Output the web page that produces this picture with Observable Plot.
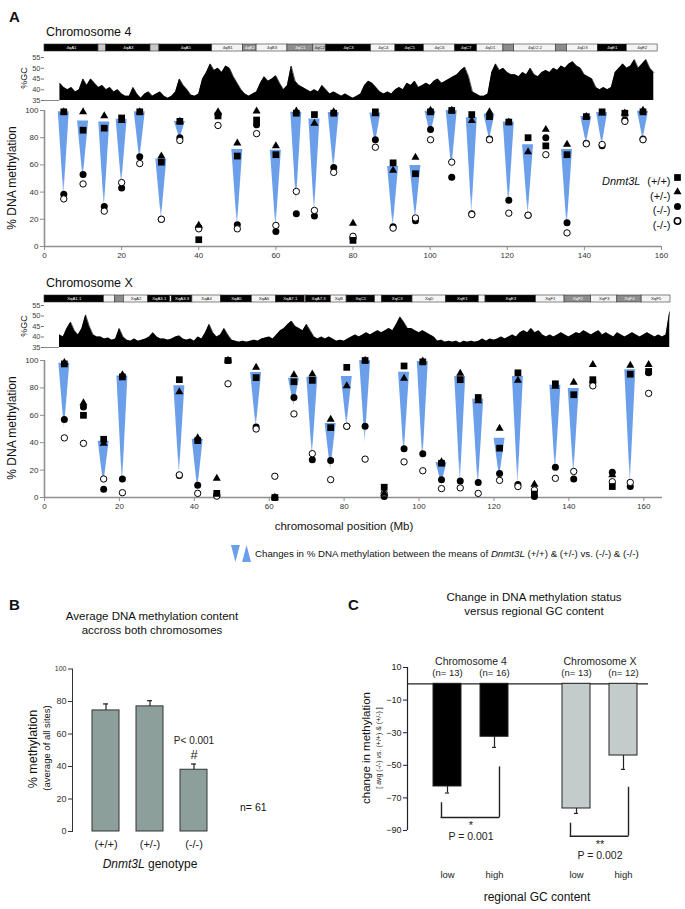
<!DOCTYPE html>
<html><head><meta charset="utf-8"><title>Dnmt3L methylation</title>
<script src="https://cdn.jsdelivr.net/npm/d3@7"></script>
<script src="https://cdn.jsdelivr.net/npm/@observablehq/plot@0.6"></script>
<style>
html,body{margin:0;padding:0;background:#fff;}
#page{position:relative;width:685px;height:909px;overflow:hidden;font-family:"Liberation Sans",Arial,Helvetica,sans-serif;color:#111;}
.t{position:absolute;white-space:nowrap;line-height:1;}
</style></head><body><div id="page"></div>
<script>
// ================= DATA =================
// Panel A — chromosome 4 sites (Mb) and % methylation per genotype
const chr4Pos  = [5, 10, 15.5, 20, 24.7, 30.3, 35.1, 40, 45, 50, 55, 60, 65.3, 70, 75, 80, 85.8, 90.4, 96.2, 100.1, 105.6, 110.8, 115.4, 120.4, 125.4, 130, 135.5, 140.5, 144.6, 150.5, 155.2];
const chr4WT   = [99, 85.5, 87, 94.5, 99, 62, 92, 5, 96, 66.5, 93, 67.5, 98, 97, 98, 4.5, 99, 61.5, 53.5, 99, 100, 97, 95.5, 91.5, 80, 74, 67.5, 95.5, 99, 98, 99];
const chr4Het  = [99, 99, 96, 92.5, 99, 66.5, 92, 15.5, 99, 76, 99.5, 74, 99.5, 90.5, 99, 17, 97.5, 56, 65.5, 100, 100, 92.5, 99, 91.5, 69.5, 86, 75, 95.5, 98, 98, 100];
const chr4KO1  = [38.5, 53, 29.5, 43, 66, 20, 80, 14, 97, 16, 89.5, 11, 24, 22.5, 58, 6, 78.5, 14.5, 19, 86, 51, 24, 79, 34, 23, 80, 17.5, 76, 74, 93, 79];
const chr4KO2  = [35, 46, 26, 47, 61, 20, 78, 13, 89, 13, 83, 15.5, 40.5, 26.5, 54.5, 7.5, 73, 13.5, 21, 78.5, 62, 23.5, 78.5, 24.5, 23, 67.5, 10, 75.5, 75, 92, 78.5];
const chr4Wedge = [1,1,1,1,1,1,1,0,0,1,0,1,1,1,1,0,1,1,1,1,1,1,1,1,1,0,1,1,1,0,1];

// Panel A — chromosome X sites
const chrXPos  = [5.3, 10.4, 15.8, 20.8, 36, 40.9, 46, 49, 56.5, 61.5, 66.6, 71.5, 76.4, 80.7, 85.6, 90.7, 96, 101, 106, 111, 115.8, 121.5, 126.4, 130.8, 136.4, 141.3, 146.4, 151.6, 156.4, 161.3];
const chrXWT   = [97.5, 60, 42.5, 88, 86, 41.5, 3, 100, 87.5, 0, 84.5, 85.5, 51, 95, 100, 7.5, 96, 99, 25, 86, 73, 36, 91, 2.5, 83, 75, 86, 8, 90, 92];
const chrXHet  = [98.5, 69, 39.5, 89.5, 77, 43.5, 14, 100, 95, 0, 89.5, 90, 57, 81.5, 100, 3, 87, 99.5, 26, 90.5, 70.5, 50.5, 85.5, 9.5, 81, 84, 97, 16.5, 96.5, 97];
const chrXKO1  = [57, 66, 6, 13.5, 16, 9, 2, 100, 51.5, 0, 73, 27.5, 27, 52, 52, 0.7, 35.5, 32, 13, 12, 11, 17.5, 9.5, 0.7, 22, 13.5, 84, 18.5, 8, 91];
const chrXKO2  = [43.5, 39.5, 13.5, 3.5, 16.5, 3, 1, 83, 50, 15.5, 61, 32, 13, 52, 28, 3, 26, 19.5, 6.5, 7, 3, 12.5, 8, 5.5, 14, 19, 81.5, 11.5, 11, 76];
const chrXWedge = [1,0,1,1,1,1,0,0,1,0,1,1,1,1,1,0,1,1,1,1,1,1,1,0,1,1,0,0,1,0];

const genotypeLabels = ["(+/+)", "(+/-)", "(-/-)", "(-/-)"];

// %GC profiles, 1-Mb bins starting at gcStart
const gc4Start = 4;
const gc4 = [43,41,40,41,39,40,45,42,45,43, 41,42,40,41,39,40,38,37,37,41, 38,36,38,39,37,38,39,37,36,37, 39,45,42,40,37.5,37,38,45,48,52, 49,50,48,51,50,46,43,40,38,37, 38,39,43,46,44,45,46.5,43,40,42, 51,44,42,41,40,39,40,39,42,40, 38,39,38,37,38,37,36,37,38,42, 44,43,41,39,38,39,38,40,41,40, 43,42,44,41,42,43,42,44,45,43, 44,45,46,47,49,50.5,46,39,38,37, 37,38,48,52,49,50,48,47,47,46, 48,47,50,47,46,48,49,48,50,49, 51,50,52,53,51,50,47,46,45,41, 40,41,40,41,48,50,52,50,51,54, 50,52,54,50,48];
const gcXStart = 4;
const gcX = [41,40,44,47,43,41,44,50.5,45,41, 40,40,39,39.5,38.5,39,44,40,38.5,38, 39,38,38.5,39,40,42,40,39,39,38.5, 39,40,40.5,39,38.5,39,38,40,39,42, 46,42,40,41,44,41,38.5,38,37.5,38, 37.5,38,38.5,38,39,39.5,40,39,41,43, 44,46,47.5,45,44,43,46,43,40,39, 40,39,40,39,38,38.5,38,39,40,41, 40,41,42,41,42,43,42,43,44,43, 46,49.5,47,44,44,43,42,43,42,41, 40,38,38.5,37.5,38,37.5,38,37,38,37.5, 38,37.5,38,39,38,39,38.5,39,40,39, 40,41,40,42,43,42,44,42,43,41, 40,41,40,41,42,41,40,41,42,41.5, 43,42,41,42,43,41,42,41,40,42, 41,40,41,42,41,40,41,42,41,40, 41,40,41,52];

// Cytogenetic bands (edges in Mb)
const band4Edges = [0, 14, 16, 27.5, 29.8, 43.5, 51.5, 55, 63, 69.7, 73, 84.7, 91, 98.4, 106.5, 112.2, 119, 121.8, 132.6, 135.5, 143.5, 151, 159];
const band4Label = ["4qA1","4qA2","4qA3","4qA4","4qA5","4qB1","4qB2","4qB3","4qC1","4qC2","4qC3","4qC4","4qC5","4qC6","4qC7","4qD1","4qD2.1","4qD2.2","4qD2.3","4qD3","4qE1","4qE2"];
const band4Stain = ["black","light","black","light","black","white","dark","white","dark","light","black","white","black","white","black","white","dark","white","dark","white","black","white"];
const bandXEdges = [0, 15.9, 18.9, 21.2, 27.7, 33.6, 34.0, 39.5, 47.1, 55.4, 61.8, 69.5, 69.9, 76.5, 80.7, 88.3, 90.1, 98.3, 107.2, 116, 117.8, 131.3, 138.9, 146, 153, 159.5, 167.2];
const bandXLabel = ["XqA1.1","XqA1.2","XqA1.3","XqA2","XqA3.1","XqA3.2","XqA3.3","XqA4","XqA5","XqA6","XqA7.1","XqA7.2","XqA7.3","XqB","XqC1","XqC2","XqC3","XqD","XqE1","XqE2","XqE3","XqF1","XqF2","XqF3","XqF4","XqF5"];
const bandXStain = ["black","white","dark","white","black","white","black","white","black","white","black","white","black","white","black","white","black","white","black","white","black","white","dark","white","dark","white"];

// tick labels
const gcTicks = [35, 40, 45, 50, 55];
const methTicks = [0, 20, 40, 60, 80, 100];
const posTicks = [0, 20, 40, 60, 80, 100, 120, 140, 160];

// Panel B
const bGenotype = ["(+/+)", "(+/-)", "(-/-)"];
const bMean = [74.5, 77, 38];
const bErr = [4, 3.5, 3.5];
const bTicks = [0, 20, 40, 60, 80];
const bTopTick = [100];
const bSigP = "P< 0.001";
const bSigMark = "#";

// Panel C
const cChrom = ["Chromosome 4", "Chromosome 4", "Chromosome X", "Chromosome X"];
const cGC = ["low", "high", "low", "high"];
const cMean = [-63, -32.5, -76.5, -44];
const cErr = [4, 6.5, 3, 8.5];
const cN = [13, 16, 13, 12];
const cTicks = [-90, -70, -50, -30, -10, 10];
const cGroups = ["Chromosome 4", "Chromosome X"];
const brLowTop = [-73, -85.5];
const brHighTop = [-51, -63.5];
const brBottom = [-82, -93.5];
const brStars = ["*", "**"];
const brP = ["P = 0.001", "P = 0.002"];

// ================= DRAWING =================
const FONT = '"Liberation Sans", Arial, Helvetica, sans-serif';
const NARROW = '"Liberation Sans Narrow", "Arial Narrow", "Liberation Sans", sans-serif';
const page = document.getElementById("page");
const baseStyle = {background: "transparent", overflow: "visible", maxWidth: "none", fontFamily: FONT, color: "#222"};

function place(svg, left, top) {
  svg.style.position = "absolute";
  svg.style.left = left + "px";
  svg.style.top = top + "px";
  page.appendChild(svg);
  return svg;
}
function text(html, x, y, o = {}) {
  const d = document.createElement("div");
  d.className = "t";
  d.innerHTML = html;
  d.style.fontSize = (o.size || 12) + "px";
  if (o.bold) d.style.fontWeight = "bold";
  if (o.family) d.style.fontFamily = o.family;
  if (o.color) d.style.color = o.color;
  d.style.left = x + "px";
  d.style.top = y + "px";
  const tx = o.anchor === "start" ? "0" : o.anchor === "end" ? "-100%" : "-50%";
  d.style.transform = `translate(${tx},-50%)` + (o.rotate ? ` rotate(${o.rotate}deg)` : "");
  page.appendChild(d);
}

const stainFill = {black: "#000", white: "#f4f4f4", light: "#c8c8c8", dark: "#8c8c8c"};
const stainText = {black: "#fff", white: "#222", light: "#222", dark: "#fff"};

function ideogram(edges, labels, stains, domain, marginRight) {
  const pxPerMb = (685 - 44 - marginRight) / domain[1];
  const rows = labels.map((l, i) => ({s: edges[i], e: edges[i + 1], label: l, stain: stains[i]}));
  // only label bands wide enough to hold their name
  const labelled = rows.filter(r => (r.e - r.s) * pxPerMb >= r.label.length * 2.4);
  return Plot.plot({
    width: 685, height: 9, marginLeft: 44, marginRight, marginTop: 1, marginBottom: 1,
    x: {domain, axis: null}, color: {type: "identity"}, style: baseStyle,
    marks: [
      Plot.rect(rows, {x1: "s", x2: "e", fill: d => stainFill[d.stain], stroke: "#333", strokeWidth: 0.6}),
      Plot.text(labelled, {x: d => (d.s + d.e) / 2, text: "label", fontSize: 4.3, fill: d => stainText[d.stain]})
    ]
  });
}

function gcPlot(start, vals, domain, marginRight, height) {
  const rows = vals.map((v, i) => ({pos: start + i, gc: v}));
  return Plot.plot({
    width: 685, height, marginLeft: 44, marginRight, marginTop: 5, marginBottom: 4,
    x: {domain, axis: null}, y: {domain: [35, 55]}, style: baseStyle,
    marks: [
      Plot.areaY(rows, {x: "pos", y: "gc", fill: "#000", curve: "linear", clip: true}),
      Plot.lineY(rows, {x: "pos", y: "gc", stroke: "#000", strokeWidth: 0.6, clip: true}),
      Plot.ruleY([35], {x1: 0, x2: start, stroke: "#888", strokeWidth: 1}),
      Plot.axisY({ticks: gcTicks, tickSize: 3, tickPadding: 1, fontSize: 7.5, label: null, stroke: "#777", fill: "#444"})
    ]
  });
}

function methylationPlot(d, domain, marginRight, height, legend) {
  const pxPerMb = (685 - 44 - marginRight) / domain[1];
  const hw = 5.5 / pxPerMb;
  const wedges = [];
  d.pos.forEach((p, i) => {
    if (!d.wedge[i]) return;
    const hi = (d.wt[i] + d.het[i]) / 2, lo = (d.ko1[i] + d.ko2[i]) / 2;
    wedges.push({site: i, y: hi, x1: p - hw, x2: p + hw}, {site: i, y: lo, x1: p, x2: p});
  });
  const pts = vals => d.pos.map((p, i) => ({pos: p, v: vals[i]}));
  const marks = [
    Plot.areaX(wedges, {y: "y", x1: "x1", x2: "x2", z: "site", fill: "url(#wedgeGrad)"}),
    Plot.ruleY([0], {stroke: "#8f8f8f", strokeWidth: 1.6}),
    Plot.ruleX([0], {stroke: "#8f8f8f", strokeWidth: 1.6}),
    Plot.axisY({ticks: methTicks, tickSize: 4, tickPadding: 2, fontSize: 8, label: null, stroke: "#8f8f8f", fill: "#333"}),
    Plot.axisX({ticks: posTicks, tickSize: 4, tickPadding: 2, fontSize: 8, label: null, stroke: "#8f8f8f", fill: "#333"}),
    Plot.dot(pts(d.ko1), {x: "pos", y: "v", r: 3.5, fill: "#000"}),
    Plot.dot(pts(d.ko2), {x: "pos", y: "v", r: 3.2, fill: "#fff", stroke: "#000", strokeWidth: 1}),
    Plot.dot(pts(d.het), {x: "pos", y: "v", r: 3.0, symbol: "triangle", fill: "#000"}),
    Plot.dot(pts(d.wt), {x: "pos", y: "v", r: 3.8, symbol: "square", fill: "#000"})
  ];
  if (legend) {
    const sym = [
      {symbol: "square", r: 3.8, fill: "#000", stroke: "none"},
      {symbol: "triangle", r: 3.0, fill: "#000", stroke: "none"},
      {symbol: "circle", r: 3.5, fill: "#000", stroke: "none"},
      {symbol: "circle", r: 3.2, fill: "#fff", stroke: "#000"}
    ];
    const ly = [67, 81.5, 96, 110.5];
    genotypeLabels.forEach((lab, i) => {
      marks.push(Plot.dot([lab], {frameAnchor: "top-right", dx: 16, dy: ly[i], ...sym[i]}));
      marks.push(Plot.text([lab], {text: t => t, frameAnchor: "top-right", dx: 9, dy: ly[i], textAnchor: "end", fontSize: 11, fill: "#111"}));
    });
    marks.push(Plot.text(["Dnmt3L"], {text: t => t, frameAnchor: "top-right", dx: -21, dy: ly[0], textAnchor: "end", fontSize: 11, fontStyle: "italic", fill: "#111"}));
  }
  return Plot.plot({
    width: 685, height, marginLeft: 44, marginRight, marginTop: 6, marginBottom: 18,
    x: {domain}, y: {domain: [0, 100]}, style: baseStyle, marks
  });
}

// ---------- Panel A ----------
text("A", 9, 16, {anchor: "start", bold: true, size: 15});
text("Chromosome 4", 46, 32, {anchor: "start", size: 12.5});
place(ideogram(band4Edges, band4Label, band4Stain, [0, 160], 24), 0, 43);
place(gcPlot(gc4Start, gc4, [0, 160], 24, 52), 0, 52);
text("%GC", 24, 78, {rotate: -90, size: 9});
const m4 = place(methylationPlot({pos: chr4Pos, wt: chr4WT, het: chr4Het, ko1: chr4KO1, ko2: chr4KO2, wedge: chr4Wedge}, [0, 160], 24, 160, true), 0, 104);
text("% DNA methylation", 12, 178, {rotate: -90, size: 12});

// gradient used by wedges
const defs = d3.select(m4).insert("defs", ":first-child");
const grad = defs.append("linearGradient").attr("id", "wedgeGrad").attr("x1", 0).attr("y1", 0).attr("x2", 0).attr("y2", 1);
grad.append("stop").attr("offset", "0").attr("stop-color", "#6b9fe9");
grad.append("stop").attr("offset", "0.78").attr("stop-color", "#6b9fe9");
grad.append("stop").attr("offset", "1").attr("stop-color", "#bcd4f6");

text("Chromosome X", 46, 283, {anchor: "start", size: 12.5});
place(ideogram(bandXEdges, bandXLabel, bandXStain, [0, 167.2], 15), 0, 294);
place(gcPlot(gcXStart, gcX, [0, 167.2], 15, 51), 0, 300);
text("%GC", 24, 326, {rotate: -90, size: 9});
place(methylationPlot({pos: chrXPos, wt: chrXWT, het: chrXHet, ko1: chrXKO1, ko2: chrXKO2, wedge: chrXWedge}, [0, 165], 23, 161, false), 0, 354);
text("% DNA methylation", 12, 428, {rotate: -90, size: 12});
text("chromosomal position (Mb)", 344, 527, {size: 11.5});

// wedge legend glyphs
const glyph = [
  {k: "down", y: 1, x1: 0, x2: 2}, {k: "down", y: 0, x1: 1, x2: 1},
  {k: "up", y: 0, x1: 2.5, x2: 4.5}, {k: "up", y: 1, x1: 3.5, x2: 3.5}
];
place(Plot.plot({
  width: 20, height: 17, margin: 0, x: {domain: [0, 4.5], axis: null}, y: {domain: [0, 1], axis: null}, style: baseStyle,
  marks: [Plot.areaX(glyph, {y: "y", x1: "x1", x2: "x2", z: "k", fill: "#6b9fe9"})]
}), 231, 545);
text("Changes in % DNA methylation between the means of <i>Dnmt3L</i> (+/+) &amp; (+/-) vs. (-/-) &amp; (-/-)", 255, 554, {anchor: "start", size: 9.7});

// ---------- Panel B ----------
text("B", 9, 604, {anchor: "start", bold: true, size: 15});
text("Average DNA methylation content", 152, 617, {size: 11.5});
text("accross both chromosomes", 152, 631, {size: 11.5});
const bRows = bGenotype.map((g, i) => ({g, v: bMean[i], e: bErr[i]}));
place(Plot.plot({
  width: 330, height: 201, marginLeft: 72, marginRight: 20, marginTop: 8.5, marginBottom: 30,
  x: {domain: bGenotype, range: [75, 224], padding: 0.386},
  y: {domain: [0, 100]}, style: baseStyle,
  marks: [
    Plot.barY(bRows, {x: "g", y: "v", fill: "#8d9f9a", stroke: "#333", strokeWidth: 1}),
    Plot.ruleX(bRows, {x: "g", y1: "v", y2: d => d.v + d.e, stroke: "#222", strokeWidth: 1.2}),
    Plot.tickY(bRows, {x: "g", y: d => d.v + d.e, insetLeft: 11, insetRight: 11, stroke: "#222", strokeWidth: 1.2}),
    Plot.text(bRows.slice(2), {x: "g", y: d => d.v + d.e, text: () => bSigP, dy: -23, fontSize: 10, fill: "#222"}),
    Plot.text(bRows.slice(2), {x: "g", y: d => d.v + d.e, text: () => bSigMark, dy: -9, fontSize: 13, fill: "#222"}),
    Plot.frame({anchor: "left", stroke: "#333"}),
    Plot.axisY({ticks: bTicks, tickSize: 4, tickPadding: 2, fontSize: 9, label: null, stroke: "#333", fill: "#333"}),
    Plot.axisY({ticks: bTopTick, tickSize: 4, tickPadding: 2, fontSize: 7, label: null, stroke: "#333", fill: "#333"}),
    Plot.axisX({tickSize: 0, tickPadding: 9, fontSize: 11, label: null, fill: "#222"})
  ]
}), 0, 660);
text("% methylation", 33, 749, {rotate: -90, size: 12.5});
text("(average of all sites)", 47, 748, {rotate: -90, size: 9.5});
text(`n= ${chr4Pos.length + chrXPos.length}`, 240, 807, {anchor: "start", size: 10.5});
text("<i>Dnmt3L</i> genotype", 150, 864, {size: 12});

// ---------- Panel C ----------
text("C", 348, 604, {anchor: "start", bold: true, size: 15});
text("Change in DNA methylation status", 534, 598, {size: 11.5});
text("versus regional GC content", 534, 612, {size: 11.5});
const cRows = cChrom.map((c, i) => ({chrom: c, gc: cGC[i], v: cMean[i], e: cErr[i], n: cN[i]}));
const brRows = cGroups.map((c, i) => ({chrom: c, lowTop: brLowTop[i], highTop: brHighTop[i], bottom: brBottom[i], star: brStars[i], p: brP[i]}));
// axis layer
place(Plot.plot({
  width: 355, height: 245, marginLeft: 77, marginRight: 37, marginTop: 27, marginBottom: 55,
  x: {domain: [0, 1], axis: null}, y: {domain: [-90, 10]}, style: baseStyle,
  marks: [
    Plot.ruleX([0], {stroke: "#222", strokeWidth: 1.2}),
    Plot.ruleY([0], {stroke: "#222", strokeWidth: 1.2}),
    Plot.axisY({ticks: cTicks, tickSize: 4, tickPadding: 2, fontSize: 9, fontFamily: NARROW, label: null, stroke: "#222", fill: "#222"})
  ]
}), 330, 640);
// bars layer
place(Plot.plot({
  width: 355, height: 245, marginLeft: 83, marginRight: 27.5, marginTop: 27, marginBottom: 55,
  fx: {domain: cGroups, paddingInner: 0.112, paddingOuter: 0, axis: null},
  x: {domain: ["low", "high"], padding: 0.396},
  y: {domain: [-90, 10], axis: null},
  color: {type: "identity"}, style: {...baseStyle, fontFamily: NARROW},
  marks: [
    Plot.barY(cRows, {fx: "chrom", x: "gc", y: "v", fill: d => d.chrom === cGroups[0] ? "#000" : "#c4cccb", stroke: "#222", strokeWidth: 1}),
    Plot.ruleX(cRows, {fx: "chrom", x: "gc", y1: "v", y2: d => d.v - d.e, stroke: "#222", strokeWidth: 1.2}),
    Plot.tickY(cRows, {fx: "chrom", x: "gc", y: d => d.v - d.e, insetLeft: 12, insetRight: 12, stroke: "#222", strokeWidth: 1.2}),
    Plot.text(cGroups, {fx: d => d, text: d => d, frameAnchor: "top", dy: -10, fontSize: 10.5, fill: "#222"}),
    Plot.text(cRows, {fx: "chrom", x: "gc", text: d => `(n= ${d.n})`, frameAnchor: "top", dy: 2, fontSize: 9.5, fill: "#222"}),
    Plot.ruleX(brRows, {fx: "chrom", x: () => "low", y1: "lowTop", y2: "bottom", dx: -6, stroke: "#222", strokeWidth: 1.4}),
    Plot.ruleX(brRows, {fx: "chrom", x: () => "high", y1: "highTop", y2: "bottom", dx: 5, stroke: "#222", strokeWidth: 1.4}),
    Plot.ruleY(brRows, {fx: "chrom", y: "bottom", insetLeft: 27.5, insetRight: 28.5, stroke: "#222", strokeWidth: 1.4}),
    Plot.text(brRows, {fx: "chrom", y: "bottom", text: "star", dy: 8, fontSize: 11, fill: "#222"}),
    Plot.text(brRows, {fx: "chrom", y: "bottom", text: "p", dy: 19.5, fontSize: 10.5, fill: "#222", fontFamily: FONT}),
    Plot.axisX({tickSize: 0, tickPadding: 41, fontSize: 9.5, label: null, fill: "#222"})
  ]
}), 330, 640);
text("change in methylation", 367, 748, {rotate: -90, size: 11.5});
text("[ avg (-/-) <i>vs.</i> (+/+) &amp; (+/-) ]", 378, 748, {rotate: -90, size: 7});
text("regional GC content", 537, 897, {size: 12});
</script></body></html>
